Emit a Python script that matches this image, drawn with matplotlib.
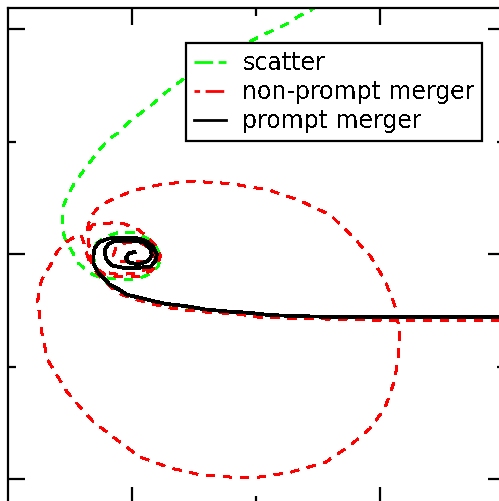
import matplotlib
matplotlib.use("Agg")
import matplotlib.pyplot as plt
from matplotlib.lines import Line2D

plt.rcParams['text.antialiased'] = False

# trajectories (x, y) in orbit units
scatter_x = [2.05, 1.56, 1.16, 0.76, 0.35, 0.03, -0.17, -0.51, -0.72, -0.90, -1.03, -1.11, -1.19,
             -1.26, -1.30, -1.31, -1.29, -1.23, -1.12, -0.98, -0.87, -0.80, -0.77, -0.79, -0.85,
             -0.95, -1.10, -1.20, -1.30, -1.38, -1.43, -1.48, -1.53, -1.56, -1.56, -1.55, -1.52,
             -1.46, -1.40, -1.33, -1.27, -1.19, -1.11, -1.04, -0.96, -0.85, -0.76, -0.68, -0.57,
             -0.45, -0.31, -0.17, -0.03, 0.05, 0.18, 0.27, 0.35, 0.44, 0.52, 0.57]
scatter_y = [-0.59, -0.59, -0.59, -0.58, -0.57, -0.56, -0.52, -0.50, -0.47, -0.41, -0.37, -0.33, -0.27,
             -0.20, -0.11, -0.01, 0.09, 0.15, 0.19, 0.19, 0.14, 0.06, -0.03, -0.11, -0.17,
             -0.22, -0.22, -0.21, -0.19, -0.13, -0.08, 0.02, 0.11, 0.21, 0.32, 0.44, 0.52,
             0.64, 0.73, 0.83, 0.92, 1.02, 1.08, 1.16, 1.23, 1.32, 1.41, 1.48, 1.57,
             1.67, 1.77, 1.84, 1.90, 1.95, 2.01, 2.06, 2.12, 2.17, 2.23, 2.28]

nonprompt_x = [2.05, 1.56, 1.16, 0.76, 0.35, 0.03, -0.15, -0.45, -0.68, -0.85, -0.94, -1.08, -1.16,
               -1.23, -1.30, -1.34, -1.35, -1.35, -1.32, -1.24, -1.16, -1.06, -0.95, -0.88, -0.81,
               -0.77, -0.79, -0.85, -0.95, -1.10, -1.22, -1.29, -1.33, -1.35, -1.36, -1.33, -1.26,
               -1.14, -0.98, -0.77, -0.53, -0.21, 0.11, 0.35, 0.60, 0.77, 0.92, 1.04, 1.12,
               1.16, 1.15, 1.12, 1.04, 0.92, 0.76, 0.56, 0.27, 0.03, -0.21, -0.45, -0.69,
               -0.94, -1.18, -1.32, -1.52, -1.68, -1.73, -1.76, -1.73, -1.66, -1.60, -1.53, -1.47,
               -1.41, -1.39, -1.37, -1.34, -1.26, -1.11, -0.97, -0.85, -0.81, -0.84, -0.92, -1.04,
               -1.13, -1.15, -1.10, -0.99, -0.88]
nonprompt_y = [-0.59, -0.59, -0.59, -0.58, -0.57, -0.56, -0.53, -0.51, -0.48, -0.44, -0.41, -0.36, -0.30,
               -0.23, -0.14, -0.04, 0.08, 0.20, 0.26, 0.27, 0.28, 0.27, 0.22, 0.16, 0.08,
               -0.01, -0.09, -0.15, -0.20, -0.20, -0.18, -0.12, -0.02, 0.11, 0.23, 0.34, 0.43,
               0.50, 0.57, 0.62, 0.65, 0.63, 0.57, 0.48, 0.35, 0.17, -0.01, -0.23, -0.45,
               -0.68, -0.90, -1.12, -1.37, -1.55, -1.70, -1.85, -1.94, -1.98, -1.98, -1.96, -1.90,
               -1.80, -1.60, -1.48, -1.23, -0.94, -0.68, -0.41, -0.23, -0.10, 0.03, 0.11, 0.15,
               0.17, 0.11, 0.02, -0.07, -0.15, -0.18, -0.17, -0.12, -0.04, 0.04, 0.10, 0.11,
               0.06, -0.01, -0.06, -0.07, -0.06]

prompt_x = [2.05, 1.56, 1.16, 0.76, 0.35, 0.11, -0.05, -0.21, -0.41, -0.57, -0.73, -0.85, -0.96,
            -1.04, -1.11, -1.18, -1.23, -1.28, -1.31, -1.31, -1.30, -1.26, -1.19, -1.10, -0.98,
            -0.89, -0.83, -0.80, -0.81, -0.85, -0.95, -1.07, -1.16, -1.21, -1.22, -1.19, -1.14,
            -1.02, -0.91, -0.85, -0.84, -0.87, -0.95, -1.03, -1.05, -1.02, -0.98]
prompt_y = [-0.56, -0.56, -0.56, -0.56, -0.55, -0.54, -0.52, -0.51, -0.49, -0.46, -0.44, -0.41, -0.38,
            -0.36, -0.31, -0.27, -0.21, -0.15, -0.08, -0.01, 0.06, 0.11, 0.14, 0.15, 0.15,
            0.12, 0.07, 0.00, -0.06, -0.11, -0.12, -0.12, -0.10, -0.04, 0.04, 0.09, 0.12,
            0.12, 0.11, 0.05, -0.01, -0.06, -0.09, -0.07, -0.03, 0.01, 0.02]

labels = ["scatter", "non-prompt merger", "prompt merger"]

lw = 1.6
fig = plt.figure(figsize=(4.99, 5.01), dpi=100)
ax = fig.add_axes([8 / 499, -3 / 501, 497 / 499, 496 / 501])

ax.plot(scatter_x, scatter_y, color="#00ff00", lw=lw, ls=(0, (4, 4)), antialiased=False)
ax.plot(nonprompt_x, nonprompt_y, color="#ff0000", lw=lw, ls=(0, (4, 4)), antialiased=False)
ax.plot(prompt_x, prompt_y, color="black", lw=2.0, antialiased=False)

ax.set_xlim(-2, 2.01)
ax.set_ylim(-2.22, 2.19)
ax.set_xticks([-1, 1])
ax.set_xticks([0], minor=True)
ax.set_yticks([-2, 0, 2])
ax.set_yticks([-1, 1], minor=True)
ax.tick_params(which="both", direction="in", top=True, right=True,
               labelbottom=False, labelleft=False, width=1.6)
ax.tick_params(which="major", length=12)
ax.tick_params(which="minor", length=6)
for sp in ax.spines.values():
    sp.set_linewidth(1.6)

handles = [
    Line2D([], [], color="#00ff00", lw=2.0, ls=(0, (6.7, 2))),
    Line2D([], [], color="#ff0000", lw=2.0, ls=(4.7, (6.7, 2))),
    Line2D([], [], color="black", lw=2.0),
]
leg = ax.legend(handles, labels, loc="upper right", bbox_to_anchor=(0.954, 0.929),
                borderaxespad=0, fancybox=False, framealpha=1, edgecolor="black",
                fontsize=17, handlelength=1.35, handletextpad=0.7, labelspacing=0.22,
                borderpad=0.32)
leg.get_frame().set_linewidth(1.6)

fig.savefig("out.png", dpi=100)
